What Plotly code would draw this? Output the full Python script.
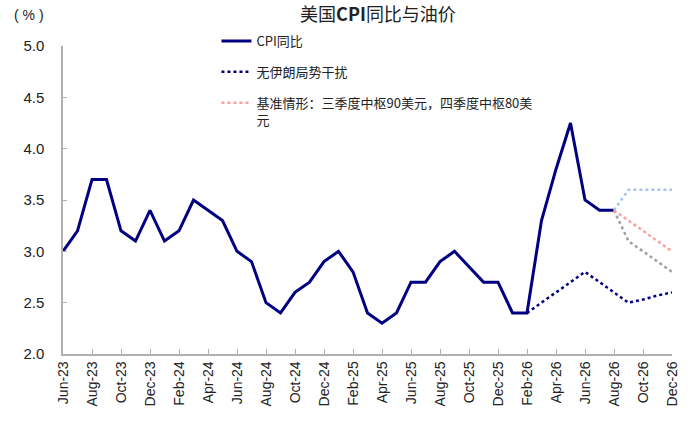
import plotly.graph_objects as go

months = [
    "Jun-23", "Jul-23", "Aug-23", "Sep-23", "Oct-23", "Nov-23", "Dec-23",
    "Jan-24", "Feb-24", "Mar-24", "Apr-24", "May-24", "Jun-24", "Jul-24",
    "Aug-24", "Sep-24", "Oct-24", "Nov-24", "Dec-24", "Jan-25", "Feb-25",
    "Mar-25", "Apr-25", "May-25", "Jun-25", "Jul-25", "Aug-25", "Sep-25",
    "Oct-25", "Nov-25", "Dec-25", "Jan-26", "Feb-26", "Mar-26", "Apr-26",
    "May-26", "Jun-26", "Jul-26", "Aug-26", "Sep-26", "Oct-26", "Nov-26",
    "Dec-26",
]
tick_labels = months[::2]

cpi_yoy = [
    3.0, 3.2, 3.7, 3.7, 3.2, 3.1, 3.4, 3.1, 3.2, 3.5, 3.4, 3.3, 3.0, 2.9,
    2.5, 2.4, 2.6, 2.7, 2.9, 3.0, 2.8, 2.4, 2.3, 2.4, 2.7, 2.7, 2.9, 3.0,
    2.85, 2.7, 2.7, 2.4, 2.4, 3.3, 3.8, 4.25, 3.5, 3.4, 3.4,
]
no_iran_months = months[32:]
no_iran = [2.4, 2.5, 2.6, 2.7, 2.8, 2.7, 2.6, 2.5, 2.53, 2.57, 2.6]

scenario_months = months[38:]
base_case = [3.4, 3.3, 3.2, 3.1, 3.0]
high_case = [3.4, 3.6, 3.6, 3.6, 3.6]
low_case = [3.4, 3.1, 3.0, 2.9, 2.8]

NAVY = "#000080"
font = "Liberation Sans, Arial, Noto Sans CJK SC, sans-serif"
cjk = "Noto Sans CJK SC, sans-serif"

fig = go.Figure()
fig.add_trace(go.Scatter(
    x=months[:len(cpi_yoy)], y=cpi_yoy, mode="lines", name="CPI同比",
    line=dict(color=NAVY, width=3), legendgroup="a",
))
fig.add_trace(go.Scatter(
    x=no_iran_months, y=no_iran, mode="lines", name="无伊朗局势干扰",
    line=dict(color=NAVY, width=2.5, dash="dot"), legendgroup="b",
))
fig.add_trace(go.Scatter(
    x=scenario_months, y=high_case, mode="lines", showlegend=False,
    line=dict(color="#a9c4eb", width=2.5, dash="dot"),
))
fig.add_trace(go.Scatter(
    x=scenario_months, y=low_case, mode="lines", showlegend=False,
    line=dict(color="#a0a0a0", width=2.5, dash="dot"),
))
fig.add_trace(go.Scatter(
    x=scenario_months, y=base_case, mode="lines",
    name="基准情形：三季度中枢90美元，四季度中枢80美<br>元",
    line=dict(color="#ff9c9c", width=2.5, dash="dot"), legendgroup="c",
))

fig.update_layout(
    width=700, height=436,
    margin=dict(l=63, r=28, t=46, b=82, autoexpand=False),
    paper_bgcolor="white", plot_bgcolor="white",
    font=dict(family=font, size=13, color="#222222"),
    title=dict(
        text="美国<b>CPI</b>同比与油价", x=0.54, xref="container", xanchor="center",
        y=0.966, yref="container", yanchor="middle",
        font=dict(size=18, color="#222222", family=cjk),
    ),
    legend=dict(
        x=0.252, y=1.065, xanchor="left", yanchor="top",
        bgcolor="rgba(0,0,0,0)", tracegroupgap=11, valign="top",
        font=dict(size=13, color="#222222", family=cjk),
    ),
    showlegend=True,
)
fig.update_xaxes(
    type="category", categoryorder="array", categoryarray=months,
    range=[0, len(months) - 1],
    tickmode="array", tickvals=tick_labels, ticktext=tick_labels,
    tickangle=-90, tickfont=dict(size=14),
    showline=True, linecolor="#b0b0b0", linewidth=1.5,
    ticks="inside", ticklen=5, tickcolor="#b0b0b0",
    showgrid=False, zeroline=False,
)
fig.update_yaxes(
    range=[2, 5], dtick=0.5, tickformat=".1f", tickfont=dict(size=15),
    showline=True, linecolor="#b0b0b0", linewidth=1.5,
    ticks="inside", ticklen=4, tickcolor="#b0b0b0", ticklabelstandoff=14,
    showgrid=False, zeroline=False,
)
fig.add_annotation(
    text="( % )", xref="paper", yref="paper", x=-0.083, y=1.1,
    xanchor="left", yanchor="middle", showarrow=False,
    font=dict(size=14, color="#222222"),
)

fig.write_html(
    "out.html",
    config={"displayModeBar": False},
    post_script="document.body.style.margin='0';",
)
